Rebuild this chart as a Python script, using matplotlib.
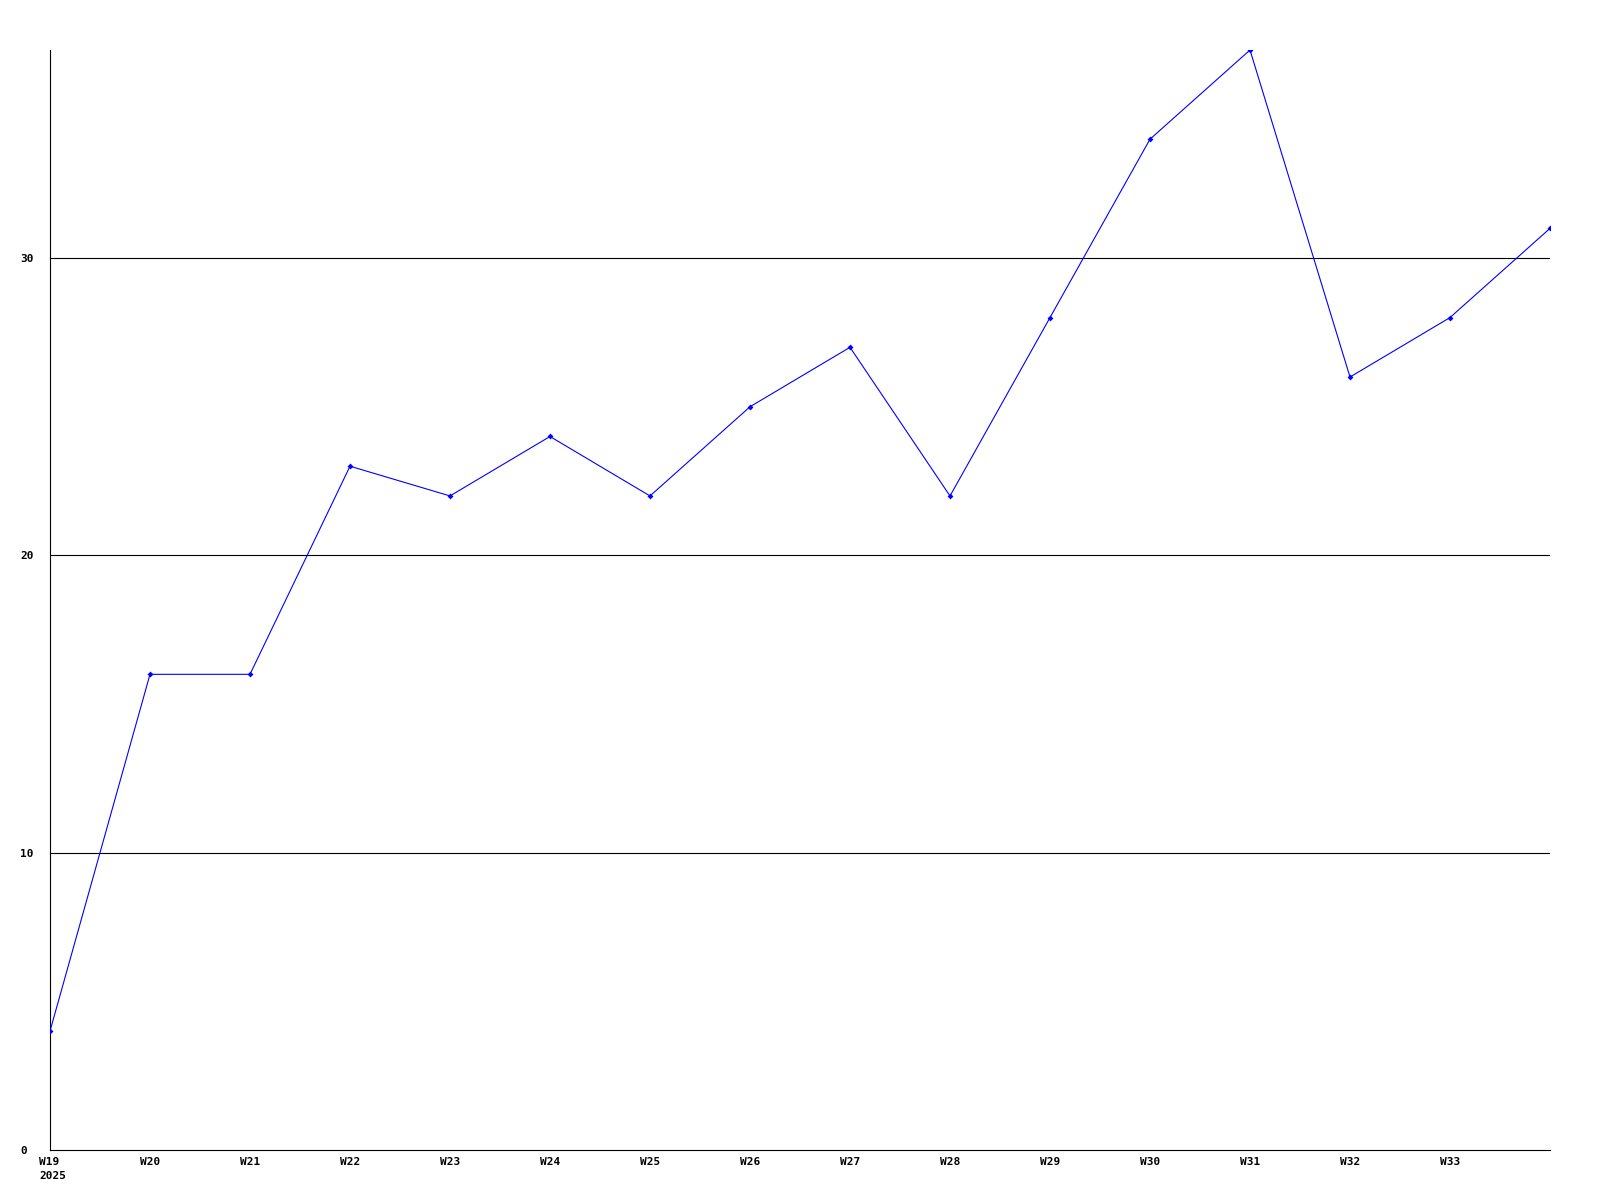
import matplotlib
matplotlib.use('Agg')
import matplotlib.pyplot as plt
import matplotlib.transforms as mtransforms

# weekly values, W19 .. W34 (W34 sits on the right edge)
weeks = ['W19', 'W20', 'W21', 'W22', 'W23', 'W24', 'W25', 'W26',
         'W27', 'W28', 'W29', 'W30', 'W31', 'W32', 'W33', 'W34']
values = [4, 16, 16, 23, 22, 24, 22, 25, 27, 22, 28, 34, 37, 26, 28, 31]
tick_labels = ['W19\n2025'] + weeks[1:15]
y_ticks = [0, 10, 20, 30]

plt.rcParams['font.family'] = ['DejaVu Sans Mono']
plt.rcParams['font.weight'] = 'bold'
plt.rcParams['font.size'] = 8

fig = plt.figure(figsize=(16, 12), dpi=100)
ax = fig.add_axes([50 / 1600, 50 / 1200, 1500 / 1600, 1100 / 1200])

x = list(range(len(values)))
ax.plot(x, values, color='#0000ff', linewidth=0.8, marker='D', markersize=3,
        markeredgewidth=0, zorder=3)

ax.set_xlim(0, 15)
ax.set_ylim(0, 37)

ax.set_xticks(range(15))
ax.set_xticklabels(tick_labels)
ax.set_yticks(y_ticks)
ax.set_yticklabels([str(v) for v in y_ticks], ha='left')
ax.tick_params(length=0)
ax.tick_params(axis='y', pad=21.6)   # left edge of labels ~20px from figure edge
ax.tick_params(axis='x', pad=5)

# first label: "2025" sits left-aligned under "W19"
first = ax.get_xticklabels()[0]
first.set_horizontalalignment('left')
first.set_multialignment('left')
first.set_linespacing(1.45)
first.set_transform(first.get_transform() +
                    mtransforms.ScaledTranslation(-11 / 100, 0, fig.dpi_scale_trans))

for v in y_ticks[1:]:
    ax.axhline(v, color='black', linewidth=0.8, zorder=1)

for side in ['top', 'right']:
    ax.spines[side].set_visible(False)
for side in ['left', 'bottom']:
    ax.spines[side].set_color('black')
    ax.spines[side].set_linewidth(0.8)

fig.savefig('out.png', dpi=100, facecolor='white')
